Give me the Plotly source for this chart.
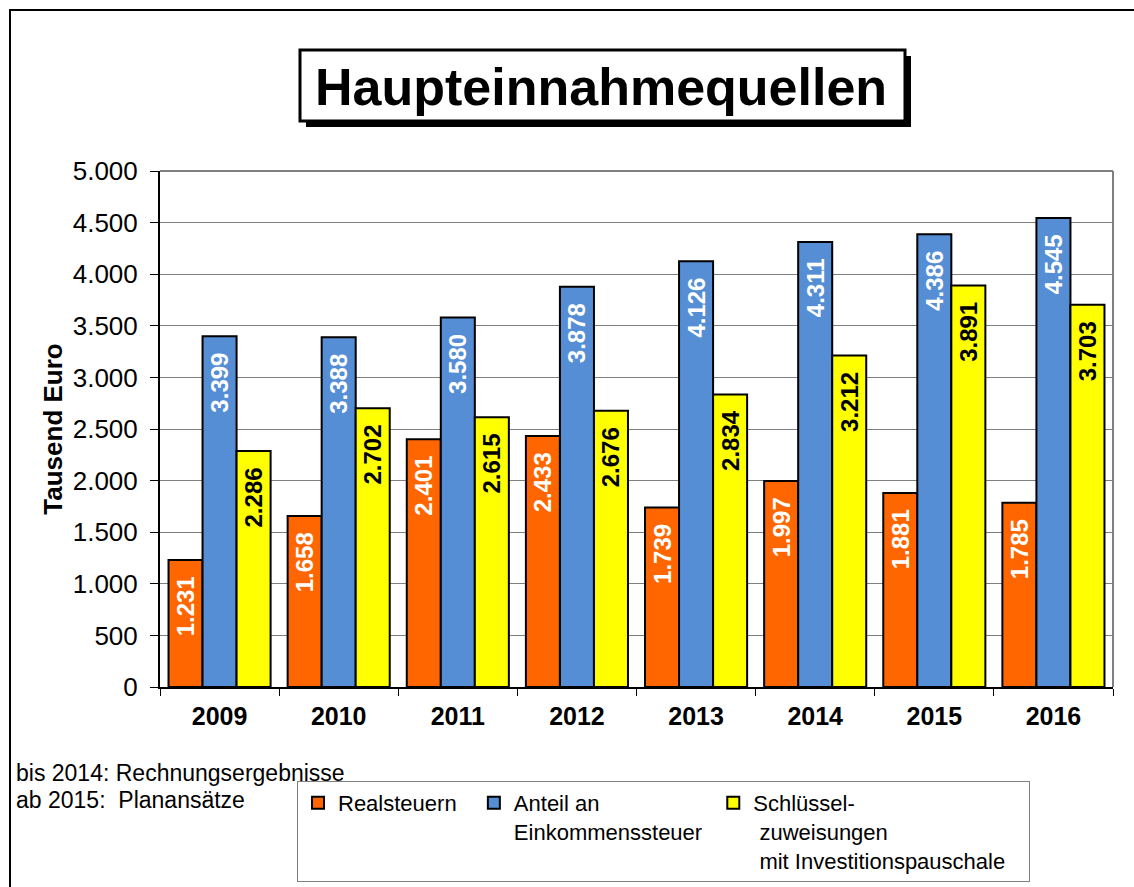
import plotly.graph_objects as go

years = ["2009", "2010", "2011", "2012", "2013", "2014", "2015", "2016"]
realsteuern = [1231, 1658, 2401, 2433, 1739, 1997, 1881, 1785]
einkommen = [3399, 3388, 3580, 3878, 4126, 4311, 4386, 4545]
schluessel = [2286, 2702, 2615, 2676, 2834, 3212, 3891, 3703]

NB = "\u00a0"
series_names = ["Realsteuern" + NB * 2, "Anteil an<br>Einkommenssteuer" + NB,
                "Schlüssel-<br>" + NB + "zuweisungen<br>" + NB + "mit Investitionspauschale" + NB * 3]
series_colors = ["#FF6600", "#558ED5", "#FFFF00"]
label_colors = ["white", "white", "black"]

W, H = 1134, 887
L, R, T, B = 160, 21, 171, 200
pw, ph = W - L - R, H - T - B

def px(x):
    return (x - L) / pw

def py(y):
    return (H - B - y) / ph

FONT = "Liberation Sans, Arial, sans-serif"

fig = go.Figure()
for name, vals, col, lc in zip(series_names, [realsteuern, einkommen, schluessel], series_colors, label_colors):
    fig.add_trace(go.Bar(
        x=years, y=vals, name=name,
        marker=dict(color=col, line=dict(color="black", width=2)),
        texttemplate="%{y:,.0f}" + NB * 2, textposition="inside", insidetextanchor="end",
        textangle=-90, constraintext="none",
        textfont=dict(color=lc, size=24, family=FONT, weight="bold"),
    ))

shapes = [
    # outer frame
    dict(type="rect", xref="paper", yref="paper", x0=px(10), x1=px(1145), y0=py(900), y1=py(10),
         line=dict(color="black", width=2), fillcolor="rgba(0,0,0,0)", layer="below"),
    # title shadow
    dict(type="rect", xref="paper", yref="paper", x0=px(306), x1=px(911), y0=py(127), y1=py(56),
         line=dict(color="black", width=0), fillcolor="black"),
    # title box
    dict(type="rect", xref="paper", yref="paper", x0=px(300), x1=px(905), y0=py(121), y1=py(50),
         line=dict(color="black", width=3), fillcolor="white"),
    # plot frame top/right in gray
    dict(type="line", xref="paper", yref="paper", x0=0, x1=1, y0=1, y1=1, line=dict(color="#808080", width=2)),
    dict(type="line", xref="paper", yref="paper", x0=1, x1=1, y0=0, y1=1, line=dict(color="#808080", width=2)),
]

annotations = [
    dict(text="<b>Haupteinnahmequellen</b>", xref="paper", yref="paper", x=px(601), y=py(87),
         showarrow=False, font=dict(size=52, color="black", family=FONT), xanchor="center", yanchor="middle"),
    dict(text="bis 2014: Rechnungsergebnisse", xref="paper", yref="paper", x=px(14), y=py(773),
         showarrow=False, font=dict(size=23, color="black", family=FONT), xanchor="left", yanchor="middle"),
    dict(text="ab 2015:" + NB + NB + "Planansätze", xref="paper", yref="paper", x=px(14), y=py(800),
         showarrow=False, font=dict(size=23, color="black", family=FONT), xanchor="left", yanchor="middle"),
]

fig.update_layout(
    width=W, height=H,
    margin=dict(l=L, r=R, t=T, b=B, pad=0, autoexpand=False),
    paper_bgcolor="white", plot_bgcolor="white",
    separators=",.",
    barmode="group", bargap=0.143, bargroupgap=0,
    font=dict(family=FONT, color="black"),
    showlegend=True,
    legend=dict(orientation="h", x=px(297), y=py(781), xanchor="left", yanchor="top",
                bgcolor="white", bordercolor="#808080", borderwidth=1,
                font=dict(size=22, family=FONT, color="black"), valign="top",
                itemwidth=30, tracegroupgap=0),
    shapes=shapes, annotations=annotations,
    xaxis=dict(type="category", showline=True, linecolor="black", linewidth=2,
               ticks="outside", tickson="boundaries", ticklen=7, tickcolor="black",
               ticklabelstandoff=6, automargin=False,
               tickfont=dict(size=25, family=FONT, weight="bold"), showgrid=False),
    yaxis=dict(range=[0, 5000], dtick=500, tickformat=",.0f", showline=True, linecolor="black", linewidth=2,
               ticks="outside", ticklen=8, tickcolor="black", gridcolor="#808080", gridwidth=1,
               ticklabelstandoff=7, automargin=False,
               tickfont=dict(size=26, family=FONT),
               title=dict(text="<b>Tausend Euro</b>", font=dict(size=26, family=FONT), standoff=3)),
)

fig.write_html("out.html", config={"displayModeBar": False},
               post_script="document.body.style.margin='0px';")
